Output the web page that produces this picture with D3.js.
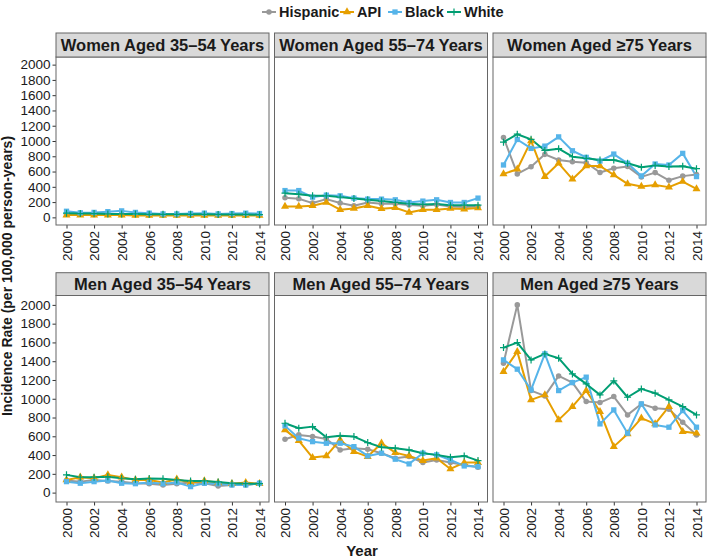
<!DOCTYPE html>
<html><head><meta charset="utf-8">
<script src="https://cdn.jsdelivr.net/npm/d3@7"></script>
<style>
body{margin:0;background:#fff;}
text{font-family:"Liberation Sans",Arial,sans-serif;}
</style></head>
<body><svg id="chart" width="709" height="560"></svg>
<script>
const years = [2000,2001,2002,2003,2004,2005,2006,2007,2008,2009,2010,2011,2012,2013,2014];
const xTicks = [2000,2002,2004,2006,2008,2010,2012,2014];
const yTicks = [0,200,400,600,800,1000,1200,1400,1600,1800,2000];
const seriesNames = ["Hispanic","API","Black","White"];
const seriesColors = ["#999999","#E69F00","#56B4E9","#009E73"];
const panelTitles = ["Women Aged 35\u201354 Years","Women Aged 55\u201374 Years","Women Aged \u226575 Years",
                     "Men Aged 35\u201354 Years","Men Aged 55\u201374 Years","Men Aged \u226575 Years"];

// Women 35-54
const hispW3554 = [40,40,35,40,35,35,30,30,30,30,35,30,30,30,30];
const apiW3554  = [30,30,30,30,30,25,25,25,25,25,25,25,25,25,25];
const blackW3554= [80,60,65,75,85,65,55,45,45,50,55,45,50,55,50];
const whiteW3554= [55,50,50,45,45,45,40,40,40,40,40,38,38,38,35];
// Women 55-74
const hispW5574 = [256,243,187,239,187,152,195,178,178,161,152,169,143,135,143];
const apiW5574  = [143,143,152,195,100,117,152,113,126,65,100,100,117,108,122];
const blackW5574= [351,351,265,291,282,252,239,239,230,195,213,230,195,195,252];
const whiteW5574= [317,304,282,282,265,248,230,213,195,178,170,175,160,160,160];
// Women >=75
const hispW75  = [1046,569,664,825,751,729,716,588,643,665,530,586,486,540,560];
const apiW75   = [569,630,1002,534,708,500,673,673,556,439,404,425,396,469,373];
const blackW75 = [686,1020,903,933,1054,872,786,738,829,708,543,699,686,838,534];
const whiteW75 = [985,1089,1022,876,900,794,773,751,751,708,656,680,665,670,638];
// Men 35-54
const hispM3554 = [128,117,135,124,117,100,95,82,95,107,100,71,82,82,100];
const apiM3554  = [135,164,153,189,164,135,135,107,143,107,124,107,95,107,95];
const blackM3554= [117,100,117,128,100,95,107,95,107,64,100,95,82,82,100];
const whiteM3554= [189,164,164,170,153,143,150,148,135,124,124,114,100,95,95];
// Men 55-74
const hispM5574 = [569,615,597,572,455,473,462,420,366,384,320,348,320,295,270];
const apiM5574  = [668,554,373,391,562,437,384,526,426,391,341,366,252,320,320];
const blackM5574= [711,580,543,526,526,490,391,420,356,306,420,402,348,284,277];
const whiteM5574= [739,686,703,590,607,597,533,484,473,455,420,402,377,391,341];
// Men >=75
const hispM75  = [1379,2000,1087,1030,1243,1172,970,959,1023,828,945,899,888,750,615];
const apiM75   = [1289,1502,988,1041,775,916,1087,863,490,625,793,732,916,650,633];
const blackM75 = [1414,1315,1094,1478,1087,1172,1230,732,881,633,945,721,697,874,697];
const whiteM75 = [1545,1598,1414,1478,1432,1265,1158,1041,1190,1016,1105,1059,988,916,828];

const panelData = [
  [hispW3554,apiW3554,blackW3554,whiteW3554],
  [hispW5574,apiW5574,blackW5574,whiteW5574],
  [hispW75,apiW75,blackW75,whiteW75],
  [hispM3554,apiM3554,blackM3554,whiteM3554],
  [hispM5574,apiM5574,blackM5574,whiteM5574],
  [hispM75,apiM75,blackM75,whiteM75]
];

const svg = d3.select("#chart");
const colX = [56, 274.5, 493];
const panelW = 213;
const rows = [
  {stripTop:33, top:57, h:168},
  {stripTop:272.7, top:295.5, h:206.5}
];

const shapes = [
  d3.symbol().type(d3.symbolCircle).size(24),
  d3.symbol().type(d3.symbolTriangle).size(28),
  d3.symbol().type(d3.symbolSquare).size(28),
  null
];

function drawMarker(g, si, x, y, color){
  if (si === 3) {
    const s = 3.5;
    g.append("path").attr("d",`M${x-s},${y}H${x+s}M${x},${y-s}V${y+s}`)
      .attr("stroke",color).attr("stroke-width",1.2).attr("fill","none");
  } else {
    g.append("path").attr("d",shapes[si]()).attr("transform",`translate(${x},${y})`).attr("fill",color);
  }
}

panelData.forEach((series, pi) => {
  const r = rows[Math.floor(pi/3)];
  const c = pi % 3;
  const x0 = colX[c];
  const g = svg.append("g").attr("transform",`translate(${x0},${r.top})`);
  const x = d3.scaleLinear().domain([2000,2014]).range([10.5, panelW-9.5]);
  const y = d3.scaleLinear().domain([-100,2100]).range([r.h,0]);

  // strip
  svg.append("rect").attr("x",x0).attr("y",r.stripTop).attr("width",panelW).attr("height",r.top-r.stripTop)
    .attr("fill","#d9d9d9").attr("stroke","#666").attr("stroke-width",1);
  svg.append("text").attr("x",x0+panelW/2).attr("y",(r.stripTop+r.top)/2).attr("dy","0.36em")
    .attr("text-anchor","middle").attr("font-weight","bold").attr("font-size",16.5).attr("fill","#1a1a1a")
    .text(panelTitles[pi]);

  g.append("rect").attr("width",panelW).attr("height",r.h).attr("fill","#fff");

  // axes
  const xa = g.append("g").attr("transform",`translate(0,${r.h})`)
    .call(d3.axisBottom(x).tickValues(xTicks).tickFormat(d3.format("d")).tickSize(3.5).tickSizeOuter(0));
  xa.select(".domain").remove();
  xa.selectAll("line").attr("stroke","#333");
  xa.selectAll("text").attr("transform","rotate(-90)").attr("text-anchor","end")
    .attr("x",-6).attr("y",0).attr("dy","0.36em").attr("font-size",13.5).attr("fill","#1a1a1a").attr("font-family",null);
  if (c === 0) {
    const ya = g.append("g").call(d3.axisLeft(y).tickValues(yTicks).tickFormat(d3.format("d")).tickSize(3.5).tickSizeOuter(0));
    ya.select(".domain").remove();
    ya.selectAll("line").attr("stroke","#333");
    ya.selectAll("text").attr("font-size",13.5).attr("fill","#1a1a1a").attr("x",-5.5).attr("font-family",null);
  }

  // lines then points
  series.forEach((vals, si) => {
    const line = d3.line().x((d,i)=>x(years[i])).y(d=>y(d));
    g.append("path").datum(vals).attr("d",line).attr("fill","none")
      .attr("stroke",seriesColors[si]).attr("stroke-width",2).attr("stroke-linejoin","round");
  });
  series.forEach((vals, si) => {
    vals.forEach((v,i)=> drawMarker(g, si, x(years[i]), y(v), seriesColors[si]));
  });

  g.append("rect").attr("width",panelW).attr("height",r.h).attr("fill","none")
    .attr("stroke","#666").attr("stroke-width",1);
});

// legend
const legX = [262, 340, 388, 447];
const legend = svg.append("g");
seriesNames.forEach((n, si) => {
  const lx = legX[si], ly = 12;
  legend.append("line").attr("x1",lx).attr("x2",lx+14).attr("y1",ly).attr("y2",ly)
    .attr("stroke",seriesColors[si]).attr("stroke-width",2);
  drawMarker(legend, si, lx+7, ly, seriesColors[si]);
  legend.append("text").attr("x",lx+17).attr("y",ly).attr("dy","0.36em")
    .attr("font-size",14.5).attr("font-weight","bold").attr("fill","#1a1a1a").text(n);
});

// axis titles
svg.append("text").attr("x",362).attr("y",556).attr("text-anchor","middle")
  .attr("font-size",15).attr("font-weight","bold").attr("fill","#1a1a1a").text("Year");
svg.append("text").attr("transform","translate(12,276) rotate(-90)").attr("text-anchor","middle")
  .attr("font-size",14).attr("font-weight","bold").attr("fill","#1a1a1a")
  .text("Incidence Rate (per 100,000 person-years)");
</script></body></html>
